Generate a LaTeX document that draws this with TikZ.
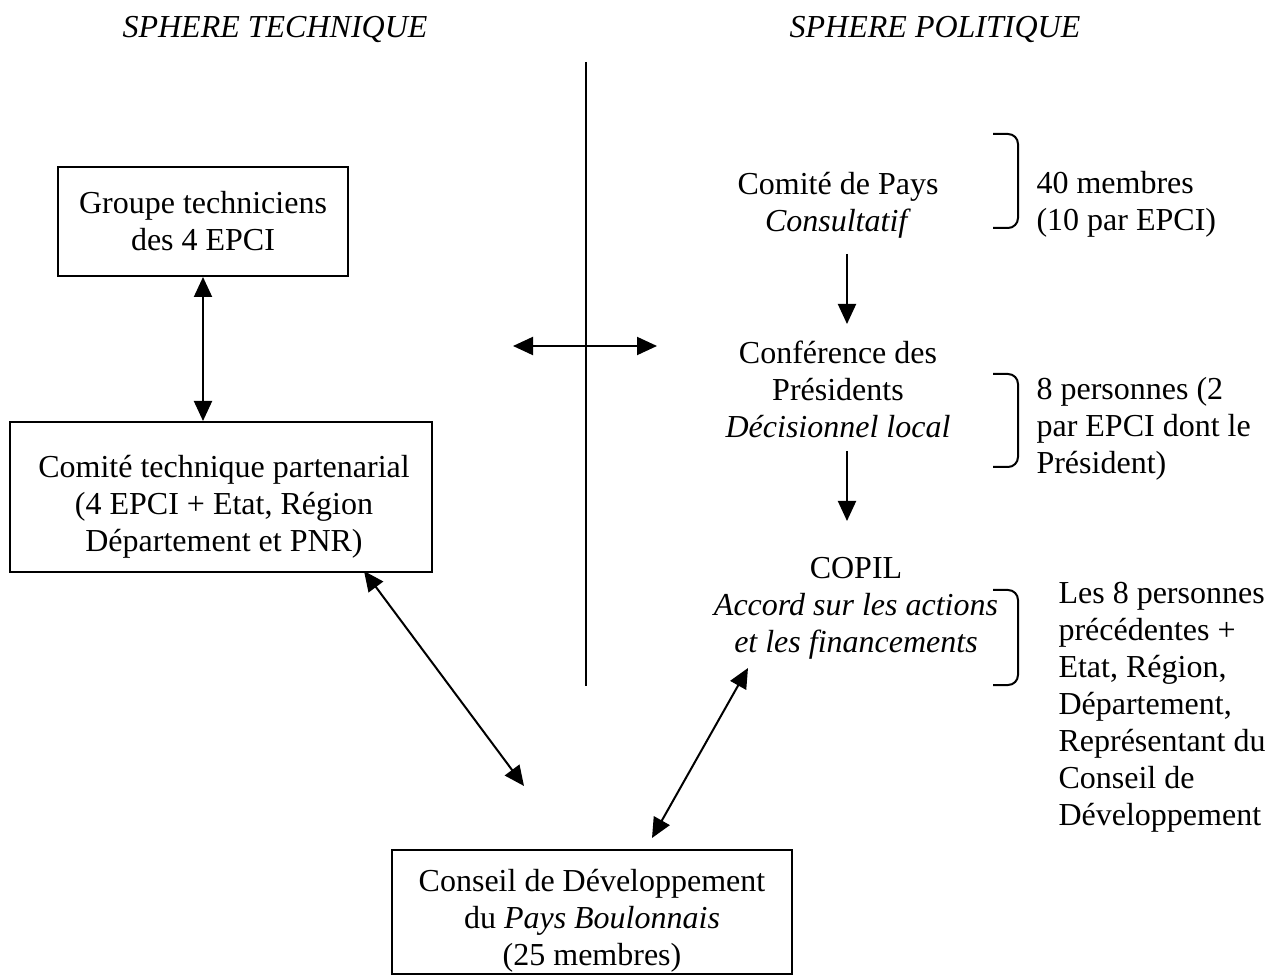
\documentclass[tikz,border=0pt]{standalone}
\usepackage{fontspec}
\setmainfont{Liberation Serif}
\usetikzlibrary{arrows.meta}
\begin{document}
\begin{tikzpicture}[x=0.375pt,y=-0.375pt,
  every node/.style={font=\fontsize{12}{13.875}\selectfont, inner sep=0pt, align=center},
  frame/.style={draw, line width=0.75pt, inner sep=0pt},
  conn/.style={line width=0.75pt},
  tip/.style={-{Triangle[length=7.5pt,width=6.75pt]}},
  both/.style={{Triangle[length=7.5pt,width=6.75pt]}-{Triangle[length=7.5pt,width=6.75pt]}},
  brace/.style={line width=0.75pt, rounded corners=3.75pt},
  note/.style={anchor=west, align=left}]
\useasboundingbox (0,0) rectangle (1278,976);

% headers
\node (hT) at (275,30) {\textit{SPHERE TECHNIQUE}};
\node (hP) at (935,30) {\textit{SPHERE POLITIQUE}};

% separator
\coordinate (vt) at (586,62);
\coordinate (vb) at (586,686);
\draw[conn] (vt) -- (vb);
\coordinate (hl) at (513,346);
\coordinate (hr) at (657,346);
\draw[conn,both] (hl) -- (hr);

% technical sphere boxes
\node[frame, minimum width=108.75pt, minimum height=40.875pt] (b1) at (203,221.5) {};
\node (t1) at (203,221.5) {Groupe techniciens\\des 4 EPCI};
\node[frame, minimum width=158.25pt, minimum height=56.25pt] (b2) at (221,497) {};
\node (t2) at (224,507) {Comité technique partenarial\\(4 EPCI + Etat, Région\\Département et PNR)};
\draw[conn,both] (b1.south) -- (b1.south |- b2.north);

% bottom box
\node[frame, minimum width=150pt, minimum height=46.5pt] (b3) at (592,912) {};
\node (t3) at (592,921) {Conseil de Développement\\du \textit{Pays Boulonnais}\\(25 membres)};

% political sphere
\node (p1) at (838,205) {Comité de Pays\\\textit{Consultatif}};
\node (p2) at (838,389) {Conférence des\\Présidents\\\textit{Décisionnel local}};
\node (p3) at (856,608) {COPIL\\\textit{Accord sur les actions}\\\textit{et les financements}};

\coordinate (a1s) at (847,254);
\coordinate (a1e) at (847,324);
\draw[conn,tip] (a1s) -- (a1e);
\coordinate (a2s) at (847,451);
\coordinate (a2e) at (847,521);
\draw[conn,tip] (a2s) -- (a2e);

% braces
\draw[brace] (993,134) -- (1018,134) -- (1018,228) -- (993,228);
\draw[brace] (993,374) -- (1018,374) -- (1018,467) -- (993,467);
\draw[brace] (993,590) -- (1018,590) -- (1018,685) -- (993,685);

\node[note] (n1) at (1036,204) {40 membres\\(10 par EPCI)};
\node[note] (n2) at (1036,429) {8 personnes (2\\par EPCI dont le\\Président)};
\node[note] (n3) at (1058,707) {Les 8 personnes\\précédentes +\\Etat, Région,\\Département,\\Représentant du\\Conseil de\\Développement};

% diagonal links
\coordinate (d1a) at (364,571);
\coordinate (d1b) at (524,786);
\draw[conn,both] (d1a) -- (d1b);
\coordinate (d2a) at (748,668);
\coordinate (d2b) at (652,838);
\draw[conn,both] (d2a) -- (d2b);
\end{tikzpicture}
\end{document}
